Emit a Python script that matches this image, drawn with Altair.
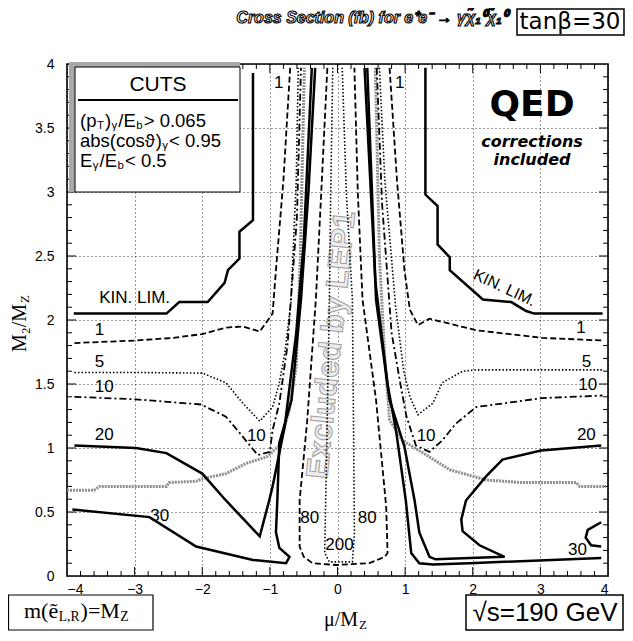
import altair as alt
import pandas as pd

# ---------------- data ----------------
KIN_L_X = [-3.90, -2.53, -2.34, -1.92, -1.67, -1.62, -1.45, -1.45, -1.25, -1.25]
KIN_L_Y = [2.05, 2.05, 2.14, 2.14, 2.29, 2.39, 2.48, 2.69, 2.78, 3.93]
KIN_R_X = [1.30, 1.30, 1.48, 1.48, 1.66, 1.66, 2.15, 2.57, 2.79, 2.91, 3.92]
KIN_R_Y = [3.97, 2.98, 2.89, 2.59, 2.49, 2.39, 2.16, 2.14, 2.07, 2.05, 2.05]

C1_L_X = [-3.89, -2.98, -2.44, -2.00, -1.65, -1.40, -1.15, -0.96, -0.91, -0.80, -0.70]
C1_L_Y = [1.82, 1.84, 1.86, 1.89, 1.94, 1.95, 1.91, 2.05, 2.39, 3.09, 3.97]
C1_R_X = [0.77, 0.88, 0.99, 1.07, 1.19, 1.36, 2.05, 3.03, 3.92]
C1_R_Y = [3.97, 3.09, 2.39, 2.08, 1.96, 2.01, 1.92, 1.86, 1.84]

C5_L_X = [-3.89, -2.98, -2.00, -1.65, -1.40, -1.15, -0.96, -0.86, -0.78, -0.69, -0.61, -0.58]
C5_L_Y = [1.59, 1.59, 1.585, 1.51, 1.35, 1.21, 1.32, 1.51, 1.74, 2.13, 3.09, 3.97]
C5_R_X = [0.62, 0.70, 0.86, 0.98, 1.07, 1.19, 1.41, 1.55, 1.85, 2.05, 3.92]
C5_R_Y = [3.97, 3.09, 2.10, 1.60, 1.40, 1.26, 1.35, 1.51, 1.60, 1.61, 1.61]

C10_L_X = [-3.89, -2.98, -2.02, -1.65, -1.45, -1.18, -1.00, -0.96, -0.86, -0.74, -0.60, -0.54]
C10_L_Y = [1.40, 1.38, 1.34, 1.245, 1.12, 0.945, 0.97, 1.14, 1.35, 1.80, 2.80, 3.97]
C10_R_X = [0.58, 0.66, 0.80, 0.93, 1.02, 1.16, 1.36, 1.55, 1.75, 2.05, 3.03, 3.92]
C10_R_Y = [3.97, 2.90, 1.90, 1.50, 1.245, 1.02, 0.97, 1.06, 1.19, 1.32, 1.39, 1.41]

C20_L_X = [-3.89, -2.98, -2.53, -2.00, -1.65, -1.15, -1.01, -0.96, -0.78, -0.61, -0.50, -0.38]
C20_L_Y = [1.02, 1.00, 0.96, 0.80, 0.59, 0.31, 0.59, 0.70, 1.17, 1.90, 2.60, 3.97]
C20_R_X = [3.90, 3.01, 2.44, 2.20, 1.90, 1.83, 1.85, 2.10, 2.47, 1.45, 1.36, 1.21, 1.14, 0.99, 0.77, 0.57, 0.44]
C20_R_Y = [1.02, 0.98, 0.91, 0.78, 0.59, 0.44, 0.35, 0.24, 0.15, 0.13, 0.15, 0.34, 0.59, 1.01, 1.375, 2.16, 3.97]

C30_L_X = [-3.92, -2.78, -2.09, -1.25, -0.76, -0.71, -0.86, -0.91, -0.89, -0.86, -0.68, -0.54, -0.43, -0.33]
C30_L_Y = [0.52, 0.46, 0.23, 0.125, 0.10, 0.15, 0.22, 0.34, 0.59, 1.04, 1.375, 2.16, 3.00, 3.97]
C30_R_X = [3.90, 1.95, 1.41, 1.21, 1.09, 1.01, 0.87, 0.74, 0.56, 0.40]
C30_R_Y = [0.14, 0.10, 0.09, 0.10, 0.18, 0.59, 1.12, 1.50, 2.30, 3.97]
C30_R2_X = [3.90, 3.70, 3.67, 3.75, 3.90]
C30_R2_Y = [0.42, 0.36, 0.30, 0.24, 0.23]

C80_X = [-0.15, -0.24, -0.32, -0.45, -0.56, -0.56, -0.50, -0.37, -0.02, 0.47, 0.70, 0.74, 0.72, 0.57, 0.37, 0.30, 0.25]
C80_Y = [3.97, 3.00, 2.16, 1.20, 0.59, 0.23, 0.15, 0.10, 0.086, 0.10, 0.15, 0.18, 0.54, 1.375, 2.16, 3.00, 3.97]

C200_X = [-0.07, -0.10, -0.12, -0.16, -0.19, -0.12, 0.22, 0.25, 0.24, 0.22, 0.13, 0.07]
C200_Y = [3.97, 3.00, 2.16, 1.00, 0.18, 0.11, 0.11, 0.33, 1.00, 2.16, 3.00, 3.97]

LEP_L_X = [-4.00, -3.60, -3.52, -2.53, -2.49, -2.09, -2.00, -1.65, -1.35, -1.05, -0.86, -0.71, -0.61, -0.55, -0.49]
LEP_L_Y = [0.67, 0.67, 0.70, 0.70, 0.73, 0.74, 0.76, 0.80, 0.88, 0.93, 1.02, 1.30, 1.64, 2.50, 3.97]
LEP_R_X = [0.56, 0.62, 0.70, 0.77, 0.96, 1.36, 1.66, 2.20, 2.72, 3.53, 3.58, 3.97]
LEP_R_Y = [3.97, 2.50, 1.70, 1.22, 1.06, 0.93, 0.83, 0.75, 0.73, 0.73, 0.70, 0.70]

LABEL_TEXT = ["1", "5", "10", "20", "30", "10", "1", "1", "1", "5", "10", "20", "30", "10", "80", "80", "200", "KIN. LIM."]
LABEL_X = [-3.52, -3.52, -3.45, -3.45, -2.63, -1.20, -0.87, 0.92, 3.60, 3.68, 3.70, 3.68, 3.55, 1.31, -0.41, 0.44, 0.03, -3.00]
LABEL_Y = [1.92, 1.67, 1.48, 1.10, 0.47, 1.09, 3.85, 3.85, 1.94, 1.67, 1.49, 1.10, 0.20, 1.09, 0.45, 0.45, 0.24, 2.17]

X_TICKS = [-4, -3, -2, -1, 0, 1, 2, 3, 4]
Y_TICKS = [0, 0.5, 1, 1.5, 2, 2.5, 3, 3.5, 4]
X_MINOR = [round(-4 + 0.2 * i, 1) for i in range(1, 40) if i % 5 != 0]
X_MAJOR = [-3, -2, -1, 0, 1, 2, 3]
Y_MINOR = [round(0.1 * i, 1) for i in range(1, 40) if i % 5 != 0]
Y_MAJOR = [0.5, 1, 1.5, 2, 2.5, 3, 3.5]

# ---------------- build tables ----------------
curves = [
    ("kinl", "solid", KIN_L_X, KIN_L_Y), ("kinr", "solid", KIN_R_X, KIN_R_Y),
    ("c20l", "solid", C20_L_X, C20_L_Y), ("c20r", "solid", C20_R_X, C20_R_Y),
    ("c30l", "solid", C30_L_X, C30_L_Y), ("c30r", "solid", C30_R_X, C30_R_Y),
    ("c30r2", "solid", C30_R2_X, C30_R2_Y),
    ("c1l", "dash", C1_L_X, C1_L_Y), ("c1r", "dash", C1_R_X, C1_R_Y),
    ("c80", "dash", C80_X, C80_Y),
    ("c5l", "dot", C5_L_X, C5_L_Y), ("c5r", "dot", C5_R_X, C5_R_Y),
    ("c200", "dot", C200_X, C200_Y),
    ("c10l", "dashdot", C10_L_X, C10_L_Y), ("c10r", "dashdot", C10_R_X, C10_R_Y),
    ("lepl", "gray", LEP_L_X, LEP_L_Y), ("lepr", "gray", LEP_R_X, LEP_R_Y),
]
rows = []
for name, style, xs, ys in curves:
    for i, (xv, yv) in enumerate(zip(xs, ys)):
        rows.append({"curve": name, "style": style, "i": i, "x": xv, "y": yv})
df = pd.DataFrame(rows)
labels = pd.DataFrame({"t": LABEL_TEXT, "x": LABEL_X, "y": LABEL_Y})

W, H = 541, 512
xscale = alt.Scale(domain=[-4, 4], nice=False, zero=False)
yscale = alt.Scale(domain=[0, 4], nice=False, zero=False)
xaxis = alt.Axis(values=X_TICKS, grid=True, gridDash=[1, 3], gridColor="black", gridOpacity=0.8,
                 ticks=False, domain=False, labelFontSize=14, labelFont="Liberation Sans",
                 labelColor="black", labelPadding=6, title=None,
                 labelExpr="datum.value < 0 ? '\u2212' + abs(datum.value) : '' + datum.value")
yaxis = alt.Axis(values=Y_TICKS, grid=True, gridDash=[1, 3], gridColor="black", gridOpacity=0.8,
                 ticks=False, domain=False, labelFontSize=14, labelFont="Liberation Sans",
                 labelColor="black", labelPadding=13, title=None,
                 labelExpr="'' + datum.value")
X = alt.X("x:Q", scale=xscale, axis=xaxis)
Y = alt.Y("y:Q", scale=yscale, axis=yaxis)

one = pd.DataFrame({"k": [0]})


def T(text, px, py, size=14, font="Liberation Sans", align="center", baseline="middle", **kw):
    return alt.Chart(one).mark_text(text=text, fontSize=size, font=font, align=align,
                                    baseline=baseline, **kw).encode(x=alt.value(px), y=alt.value(py))


def R(x1, y1, x2, y2, **kw):
    return alt.Chart(one).mark_rect(**kw).encode(x=alt.value(x1), x2=alt.value(x2),
                                                 y=alt.value(y1), y2=alt.value(y2))


HELV = {' ': 278, '(': 333, ')': 333, '/': 278, '.': 278, '>': 584, '<': 584, '=': 584, ',': 278,
        'a': 556, 'b': 556, 'c': 500, 'd': 556, 'e': 556, 'o': 556, 's': 500, 'p': 556, 'n': 556,
        't': 278, 'T': 611, 'E': 667, 'γ': 500, 'ϑ': 590}
TIMES = {'m': 778, '(': 333, ')': 333, 'ẽ': 444, 'L': 611, ',': 250, 'R': 667, '=': 564,
         'M': 889, 'Z': 611}


def tw(s, size, table):
    return sum(table.get(ch, 556) for ch in s) * size / 1000.0


def rich(pieces, px, py, size, font, table, sub=0.62, gap=1.5, **kw):
    out = []
    xx = px
    for s, kind in pieces:
        if kind == "n":
            out.append(T(s, xx, py, size, font, align="left", color="black", **kw))
            xx += tw(s, size, table)
        else:
            ss = size * sub
            out.append(T(s, xx + 0.5, py + size * 0.28, ss, font, align="left", color="black", **kw))
            xx += tw(s, ss, table) + gap
    return out


layers = []

# inward ticks (these layers also carry the axes)
tx_min = pd.DataFrame({"x": X_MINOR})
tx_maj = pd.DataFrame({"x": X_MAJOR})
ty_min = pd.DataFrame({"y": Y_MINOR})
ty_maj = pd.DataFrame({"y": Y_MAJOR})
for d, ln in ((tx_min, 5), (tx_maj, 9)):
    layers.append(alt.Chart(d).mark_rule(color="black", strokeWidth=1).encode(
        x=X, y=alt.value(H), y2=alt.value(H - ln)))
    layers.append(alt.Chart(d).mark_rule(color="black", strokeWidth=1).encode(
        x=X, y=alt.value(0), y2=alt.value(ln)))
for d, ln in ((ty_min, 5), (ty_maj, 9)):
    layers.append(alt.Chart(d).mark_rule(color="black", strokeWidth=1).encode(
        y=Y, x=alt.value(0), x2=alt.value(ln)))
    layers.append(alt.Chart(d).mark_rule(color="black", strokeWidth=1).encode(
        y=Y, x=alt.value(W), x2=alt.value(W - ln)))

# LEP1 exclusion text
layers.append(T("Excluded by LEP1", 265, 281, 31, "Liberation Sans", angle=276,
                fill="#ededed", stroke="#a0a0a0", strokeWidth=1, fontWeight="bold"))

styles = {
    "gray": dict(color="#8f8f8f", strokeWidth=3, strokeDash=[2, 1]),
    "solid": dict(color="black", strokeWidth=2.5),
    "dash": dict(color="black", strokeWidth=1.8, strokeDash=[6, 3]),
    "dot": dict(color="black", strokeWidth=1.6, strokeDash=[1.5, 2]),
    "dashdot": dict(color="black", strokeWidth=1.8, strokeDash=[7, 3, 2, 3]),
}
for st, mk in styles.items():
    layers.append(alt.Chart(df).transform_filter(alt.datum.style == st).mark_line(**mk).encode(
        x=X, y=Y, detail="curve:N", order="i:Q"))

# contour labels
layers.append(alt.Chart(labels).mark_text(fontSize=17, font="Liberation Sans", color="black").encode(
    x=X, y=Y, text="t:N"))
layers.append(alt.Chart(pd.DataFrame({"t": ["KIN. LIM."], "x": [2.47], "y": [2.25]})).mark_text(
    fontSize=16, font="Liberation Sans", color="black", angle=25).encode(x=X, y=Y, text="t:N"))

# CUTS box
layers.append(R(2, -2, 173, 128, fill="#a8a8a8"))
layers.append(R(8, 3, 173, 128, fill="white", stroke="black", strokeWidth=1))
layers.append(T("CUTS", 91, 21, 21, "Liberation Sans", color="black"))
layers.append(alt.Chart(one).mark_rule(color="black", strokeWidth=2).encode(
    x=alt.value(11), x2=alt.value(171), y=alt.value(36)))
layers += rich([("(p", "n"), ("T", "s"), (")", "n"), ("γ", "s"), ("/E", "n"), ("b", "s"),
                (" > 0.065", "n")], 13, 57, 18.5, "Liberation Sans", HELV)
layers += rich([("abs(cos", "n"), ("ϑ", "n"), (")", "n"), ("γ", "s"), (" < 0.95", "n")],
               13, 77, 18.5, "Liberation Sans", HELV)
layers += rich([("E", "n"), ("γ", "s"), ("/E", "n"), ("b", "s"), (" < 0.5", "n")],
               13, 97, 18.5, "Liberation Sans", HELV)

# QED annotation
layers.append(T("QED", 465, 41, 36, "DejaVu Sans", color="black", fontWeight="bold"))
layers.append(T("corrections", 465, 78, 16, "DejaVu Sans", color="black", fontWeight="bold",
                fontStyle="italic"))
layers.append(T("included", 465, 96, 16, "DejaVu Sans", color="black", fontWeight="bold",
                fontStyle="italic"))

# title and top-right box
layers.append(T("Cross Section (fb) for e\u207ae\u207b \u2192 \u03b3\u03c7\u0303\u2081\u2070\u03c7\u0303\u2081\u2070",
                305, -46, 16, "Liberation Sans", fontStyle="italic", fontWeight="bold",
                fill="white", stroke="black", strokeWidth=1.1))
layers.append(R(450, -55, 557, -29, fill="white", stroke="black", strokeWidth=1.5))
layers.append(T("tan\u03b2=30", 503, -42, 23, "DejaVu Sans", color="black"))

# bottom boxes
layers.append(R(-58.5, 531, 86, 566, fill="white", stroke="black", strokeWidth=1.2))
layers += rich([("m(ẽ", "n"), ("L,R", "s"), (")=M", "n"), ("Z", "s")], -43, 547, 22,
               "Liberation Serif", TIMES)
layers.append(R(399, 531, 556, 566, fill="white", stroke="black", strokeWidth=1.5))
layers.append(T("\u221as=190 GeV", 478, 549, 26, "Liberation Sans", color="black"))

# axis titles
layers.append(T("\u03bc/M", 291, 556, 20, "Liberation Serif", align="right", color="black"))
layers.append(T("Z", 292, 561, 13, "Liberation Serif", align="left", color="black"))
layers.append(T("M\u2082/M", -47, 288, 20, "Liberation Serif", align="left", angle=270, color="black"))
layers.append(T("Z", -42, 239, 13, "Liberation Serif", align="left", angle=270, color="black"))

chart = alt.layer(*layers).properties(
    width=W, height=H,
    padding={"left": 59, "top": 56, "right": 17, "bottom": 56},
    autosize=alt.AutoSizeParams(type="none"),
    background="white",
).configure_view(stroke="black", strokeWidth=1.6)

chart.save("out.html", embed_options={"renderer": "svg", "actions": False})
